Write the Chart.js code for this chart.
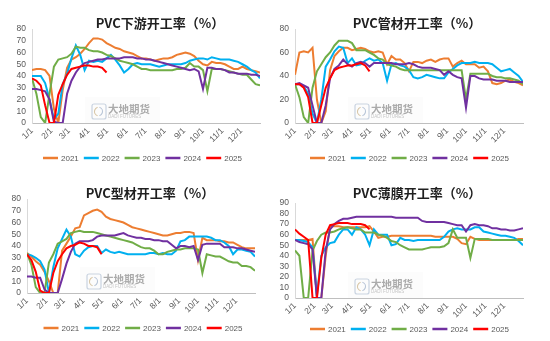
<!DOCTYPE html>
<html><head><meta charset="utf-8">
<script src="https://cdn.jsdelivr.net/npm/chart.js@4.4.1/dist/chart.umd.min.js"></script>
<style>
html,body{margin:0;padding:0;background:#fff;}
#wrap{position:relative;width:550px;height:341px;overflow:hidden;background:#fff;}
.p{position:absolute;}
</style></head><body>
<div id="wrap">
<div class="p" style="left:0;top:0;"><canvas id="c1" width="275" height="170"></canvas></div>
<div class="p" style="left:275px;top:0;"><canvas id="c2" width="275" height="170"></canvas></div>
<div class="p" style="left:0;top:170px;"><canvas id="c3" width="275" height="171"></canvas></div>
<div class="p" style="left:275px;top:170px;"><canvas id="c4" width="275" height="171"></canvas></div>
</div>
<script>
// ---------- shared labels ----------
const YEARS = ['2021','2022','2023','2024','2025'];
const YEAR_COLORS = ['#ED7D31','#00B0F0','#70AD47','#7030A0','#FF0000'];
const MONTH_LABELS = ['1/1','2/1','3/1','4/1','5/1','6/1','7/1','8/1','9/1','10/1','11/1','12/1'];
const MONTH_START_DAYS = [0,31,59,90,120,151,181,212,243,273,304,334];
const DAYS_PER_READING = 7; // weekly readings

// ---------- PVC下游开工率 ----------
const downstream2021 = [45,46,46,45,40,12,0,28,47,54,56,59,63,68,72,72,71,68,66,64,63,61,60,59,57,55,55,54,53,54,55,55,56,58,59,60,59,57,53,50,49,52,51,51,50,48,46,46,48,46,45,44,43];
const downstream2022 = [40,40,40,34,20,3,8,33,42,55,66,58,45,53,52,53,52,55,58,54,49,43,46,50,51,50,50,50,49,48,49,50,50,50,50,51,53,54,55,55,54,56,55,54,54,54,53,52,50,48,45,43,38];
const downstream2023 = [38,25,5,0,25,48,54,55,56,59,65,64,64,62,61,61,60,58,57,55,53,52,51,50,48,46,46,45,45,45,45,45,45,46,46,47,51,48,48,45,27,46,46,46,45,44,43,42,41,41,37,33,32];
const downstream2024 = [29,29,28,27,20,1,0,0,25,36,43,48,51,52,53,54,54,55,55,55,55,56,56,56,55,55,54,54,53,52,51,50,49,48,47,46,45,46,44,29,47,47,46,46,45,43,43,42,42,42,41,41,40];
const downstream2025 = [38,36,32,15,0,0,24,33,41,46,47,48,49,49,48,48,47,43];

// ---------- PVC管材开工率 ----------
const pipe2021 = [41,60,61,60,64,20,0,10,45,57,61,64,64,62,63,64,63,61,60,61,60,50,57,54,54,51,44,52,52,51,53,54,52,54,55,55,48,51,53,50,50,50,47,48,44,34,33,34,36,37,35,34,32];
const pipe2022 = [33,33,31,25,8,0,20,48,54,61,65,64,51,55,49,50,53,55,53,54,51,36,50,51,49,48,45,39,38,39,41,40,39,38,38,43,46,49,51,51,51,52,51,51,51,50,47,44,45,46,43,40,35];
const pipe2023 = [33,22,5,0,30,44,50,56,60,66,70,70,70,68,62,62,62,60,58,55,54,50,49,48,46,45,45,45,45,45,45,45,45,45,45,45,45,45,45,20,42,42,42,42,42,40,39,39,38,38,37,36,33];
const pipe2024 = [33,34,32,30,15,0,0,15,38,46,49,54,50,48,51,52,51,48,51,51,51,51,51,50,50,50,51,50,48,47,47,47,46,45,41,44,41,39,38,13,40,40,38,37,37,37,36,36,36,35,35,35,35];
const pipe2025 = [33,33,30,22,0,0,15,30,38,45,47,48,49,49,50,51,49,44];

// ---------- PVC型材开工率 ----------
const profile2021 = [34,31,27,24,18,10,0,0,36,42,48,55,56,66,68,70,71,69,65,63,62,61,60,58,56,55,54,53,52,51,50,49,49,50,51,51,52,52,51,28,47,45,45,45,44,44,43,43,41,39,38,38,38];
const profile2022 = [33,32,30,27,20,0,22,38,46,54,48,33,31,36,39,40,40,34,37,35,34,35,34,33,33,33,33,33,34,34,33,34,33,33,36,44,45,48,48,48,48,48,47,45,45,43,40,33,37,37,36,35,31];
const profile2023 = [34,24,5,0,0,26,33,42,44,46,51,52,53,52,52,52,51,50,49,48,47,46,45,44,43,41,39,38,38,36,33,33,35,36,37,37,38,38,38,37,17,33,32,31,31,29,27,26,26,23,23,22,19];
const profile2024 = [14,14,13,13,3,0,0,0,12,25,35,42,44,44,44,45,48,49,49,49,49,50,51,49,48,47,47,46,46,45,45,44,44,41,38,40,40,39,40,28,41,42,42,42,42,39,39,39,38,38,37,36,35];
const profile2025 = [33,28,18,2,0,0,17,27,33,38,40,41,43,42,40,40,39,33];

// ---------- PVC薄膜开工率 ----------
const film2021 = [55,55,55,55,56,0,0,40,68,68,68,67,67,67,67,67,67,68,63,57,58,58,59,59,59,59,59,59,59,59,59,59,58,58,58,58,58,56,52,51,58,56,55,55,55,55,55,55,55,55,55,56,56];
const film2022 = [55,55,54,53,48,2,40,48,52,53,60,65,65,60,67,65,60,50,65,60,60,60,50,51,57,55,55,54,55,55,55,55,55,55,58,63,65,66,65,65,65,67,67,63,62,61,60,59,59,58,57,54,50];
const film2023 = [45,40,0,0,45,54,60,62,62,63,65,66,67,66,65,65,62,62,62,60,59,57,54,53,50,48,46,46,46,46,47,48,48,48,49,52,65,57,57,57,38,56,56,56,56,55,55,55,55,55,55,55,55];
const film2024 = [55,53,52,51,46,0,0,45,65,70,73,75,75,76,77,77,77,77,77,77,77,77,77,76,76,76,76,76,76,73,72,72,72,72,72,71,70,69,69,63,69,70,69,69,68,66,66,65,65,64,64,65,66];
const film2025 = [65,61,58,55,0,0,38,60,69,70,71,71,71,70,70,70,69,65];

// ---------- decoration plugin: title, legend, watermark ----------
const decorPlugin = {
  id: 'decor',
  beforeDatasetsDraw(chart, args, o) {
    const ctx = chart.ctx, a = chart.chartArea;
    const lx = a.left + 60, by = a.bottom;
    ctx.save();
    ctx.fillStyle = 'rgba(0,0,0,0.012)';
    ctx.fillRect(a.left + 53, by - 26, 75, 26);
    // logo
    ctx.strokeStyle = '#C9D3E0';
    ctx.lineWidth = 1.2;
    ctx.beginPath();
    ctx.roundRect ? ctx.roundRect(lx, by - 19, 14, 15, 2) : ctx.rect(lx, by - 19, 14, 15);
    ctx.stroke();
    ctx.strokeStyle = '#D8C7A8';
    ctx.beginPath();
    ctx.arc(lx + 7, by - 11.5, 4.5, Math.PI * 0.6, Math.PI * 1.4);
    ctx.stroke();
    ctx.strokeStyle = '#B9C6D8';
    ctx.beginPath();
    ctx.arc(lx + 6, by - 11.5, 4.5, -Math.PI * 0.4, Math.PI * 0.4);
    ctx.stroke();
    ctx.fillStyle = '#ABABAB';
    ctx.textAlign = 'left';
    ctx.textBaseline = 'middle';
    ctx.font = 'bold 10.5px "Noto Sans CJK SC"';
    ctx.fillText('大地期货', lx + 16, by - 13.5);
    ctx.font = '4.5px "Liberation Sans"';
    ctx.fillStyle = '#C4C4C4';
    ctx.fillText('DADI FUTURES', lx + 16, by - 6);
    ctx.restore();
  },
  afterDraw(chart, args, o) {
    const ctx = chart.ctx;
    ctx.save();
    // title
    ctx.fillStyle = '#1F1F1F';
    ctx.font = 'bold 13px "Noto Sans CJK SC"';
    ctx.textAlign = 'center';
    ctx.textBaseline = 'middle';
    ctx.fillText(o.title, o.titleX, o.titleY);
    // legend
    ctx.font = '8px "Liberation Sans"';
    ctx.textAlign = 'left';
    const lineLen = 15, gap = 3, sep = 5;
    const items = chart.data.datasets.map(d => ({label: d.label, color: d.borderColor, w: ctx.measureText(d.label).width}));
    const total = items.reduce((s, it) => s + lineLen + gap + it.w, 0) + sep * (items.length - 1);
    let x = o.legendCX - total / 2;
    items.forEach(it => {
      ctx.strokeStyle = it.color;
      ctx.lineWidth = 2.5;
      ctx.beginPath();
      ctx.moveTo(x, o.legendY);
      ctx.lineTo(x + lineLen, o.legendY);
      ctx.stroke();
      ctx.fillStyle = '#595959';
      ctx.fillText(it.label, x + lineLen + gap, o.legendY + 0.5);
      x += lineLen + gap + it.w + sep;
    });
    ctx.restore();
  }
};

function makeChart(id, cfg) {
  const canvas = document.getElementById(id);
  const W = canvas.width, H = canvas.height;
  const XH = 24;
  const datasets = cfg.series.map((arr, i) => ({
    label: YEARS[i],
    data: arr.map((v, k) => ({x: k * DAYS_PER_READING, y: v})),
    borderColor: YEAR_COLORS[i],
    backgroundColor: YEAR_COLORS[i],
    borderWidth: 2,
    pointRadius: 0,
    tension: 0,
    order: 5 - i
  }));
  const tickFont = {family: '"Liberation Sans", Arial, sans-serif', size: 8.5};
  return new Chart(canvas, {
    type: 'line',
    data: {datasets},
    options: {
      responsive: false,
      animation: false,
      devicePixelRatio: 1,
      layout: {padding: {left: 2, right: W - cfg.right, top: cfg.top, bottom: H - cfg.bottom - XH}},
      plugins: {
        legend: {display: false},
        title: {display: false},
        tooltip: {enabled: false},
        decor: {title: cfg.title, titleX: cfg.titleX, titleY: 23, legendCX: cfg.legendCX, legendY: cfg.legendY}
      },
      scales: {
        x: {
          type: 'linear', min: 0, max: 364,
          grid: {display: false, drawTicks: false},
          border: {display: true, color: '#BFBFBF', width: 1},
          afterBuildTicks: s => { s.ticks = MONTH_START_DAYS.map(v => ({value: v})); },
          afterFit: s => { s.height = XH; },
          ticks: {
            autoSkip: false, minRotation: 45, maxRotation: 45, padding: 3,
            font: tickFont, color: '#595959',
            callback: v => MONTH_LABELS[MONTH_START_DAYS.indexOf(v)]
          }
        },
        y: {
          min: 0, max: cfg.yMax,
          grid: {display: false, drawTicks: false},
          border: {display: true, color: '#D9D9D9', width: 1},
          afterFit: s => { s.width = cfg.left - 2; },
          ticks: {stepSize: cfg.step, autoSkip: false, padding: 6, font: tickFont, color: '#595959'}
        }
      }
    },
    plugins: [decorPlugin]
  });
}

makeChart('c1', {title: 'PVC下游开工率（%）', titleX: 160, legendCX: 142.5, legendY: 158,
  left: 32, right: 260, top: 29, bottom: 123, yMax: 80, step: 10,
  series: [downstream2021, downstream2022, downstream2023, downstream2024, downstream2025]});
makeChart('c2', {title: 'PVC管材开工率（%）', titleX: 142, legendCX: 134.5, legendY: 158,
  left: 20, right: 248, top: 29, bottom: 123, yMax: 80, step: 20,
  series: [pipe2021, pipe2022, pipe2023, pipe2024, pipe2025]});
makeChart('c3', {title: 'PVC型材开工率（%）', titleX: 150, legendCX: 143, legendY: 158,
  left: 27, right: 255, top: 29, bottom: 123, yMax: 80, step: 10,
  series: [profile2021, profile2022, profile2023, profile2024, profile2025]});
makeChart('c4', {title: 'PVC薄膜开工率（%）', titleX: 142, legendCX: 134.5, legendY: 159,
  left: 20, right: 248, top: 33, bottom: 128, yMax: 90, step: 10,
  series: [film2021, film2022, film2023, film2024, film2025]});
</script>
</body></html>
